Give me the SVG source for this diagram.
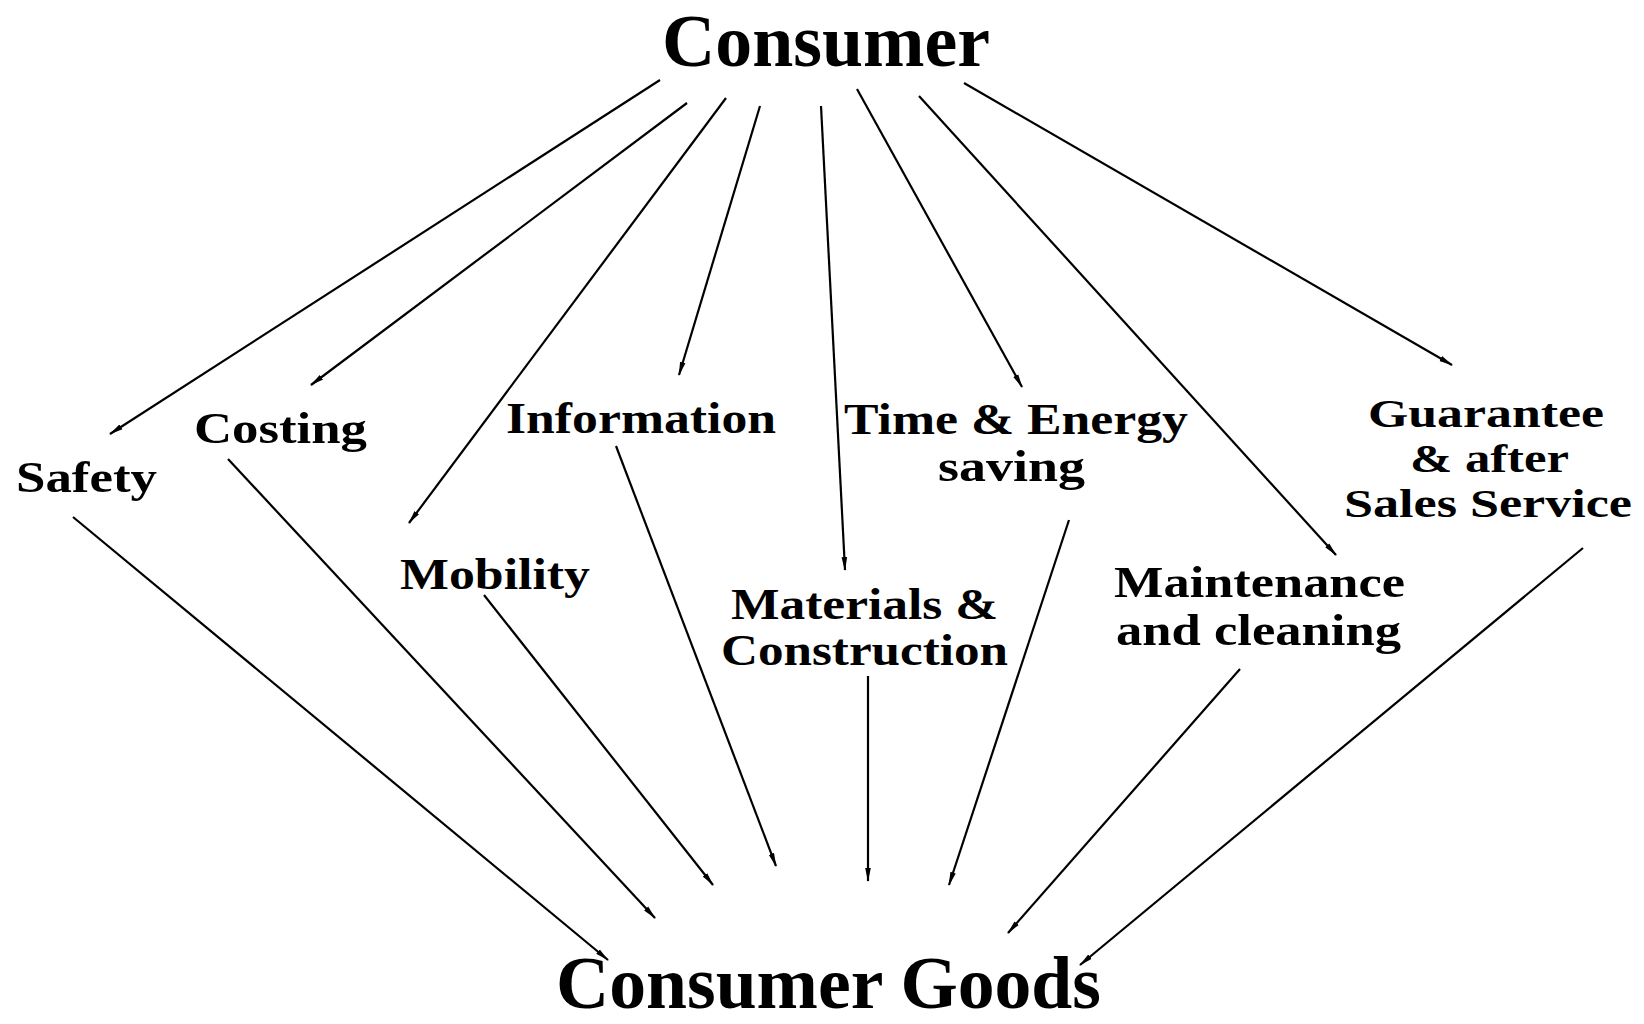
<svg xmlns="http://www.w3.org/2000/svg" width="1644" height="1024" viewBox="0 0 1644 1024">
<style>
text{font-family:"Liberation Serif","Times New Roman",serif;font-weight:bold;fill:#000}
.t{font-size:74px}
.g{font-size:74px}
.l{font-size:44px}
.s{font-size:41px}
.c line{stroke:#000;stroke-width:2.2;fill:none}
</style>
<defs>
<marker id="ah" viewBox="0 0 14 8" refX="13" refY="4" markerWidth="14" markerHeight="8" markerUnits="userSpaceOnUse" orient="auto">
<path d="M0,1.2 L14,4 L0,6.8 Z" fill="#000"/>
</marker>
</defs>
<rect width="1644" height="1024" fill="#fff"/>
<g id="consumer"><text class="t" x="662" y="66" textLength="328" lengthAdjust="spacingAndGlyphs">Consumer</text></g>
<g id="consumer-goods"><text class="g" x="556" y="1008" textLength="545" lengthAdjust="spacingAndGlyphs">Consumer Goods</text></g>
<g id="safety"><text class="l" x="16" y="492" textLength="141" lengthAdjust="spacingAndGlyphs">Safety</text></g>
<g id="costing"><text class="l" x="194" y="443" textLength="173" lengthAdjust="spacingAndGlyphs">Costing</text></g>
<g id="information"><text class="l" x="506" y="433" textLength="270" lengthAdjust="spacingAndGlyphs">Information</text></g>
<g id="time-energy"><text class="l" x="844" y="434" textLength="344" lengthAdjust="spacingAndGlyphs">Time &amp; Energy</text><text class="l" x="938" y="481" textLength="147" lengthAdjust="spacingAndGlyphs">saving</text></g>
<g id="guarantee"><text class="s" x="1368" y="427" textLength="236" lengthAdjust="spacingAndGlyphs">Guarantee</text><text class="s" x="1410" y="472" textLength="159" lengthAdjust="spacingAndGlyphs">&amp; after</text><text class="s" x="1344" y="517" textLength="288" lengthAdjust="spacingAndGlyphs">Sales Service</text></g>
<g id="mobility"><text class="l" x="400" y="589" textLength="190" lengthAdjust="spacingAndGlyphs">Mobility</text></g>
<g id="materials"><text class="l" x="731" y="619" textLength="267" lengthAdjust="spacingAndGlyphs">Materials &amp;</text><text class="l" x="721" y="665" textLength="287" lengthAdjust="spacingAndGlyphs">Construction</text></g>
<g id="maintenance"><text class="l" x="1114" y="597" textLength="291" lengthAdjust="spacingAndGlyphs">Maintenance</text><text class="l" x="1116" y="645" textLength="285" lengthAdjust="spacingAndGlyphs">and cleaning</text></g>
<g id="connectors" class="c">
<line x1="660" y1="80" x2="110" y2="434" marker-end="url(#ah)"/>
<line x1="687" y1="103" x2="311" y2="385" marker-end="url(#ah)"/>
<line x1="726" y1="98" x2="409" y2="523" marker-end="url(#ah)"/>
<line x1="760" y1="106" x2="679" y2="375" marker-end="url(#ah)"/>
<line x1="821" y1="106" x2="845" y2="570" marker-end="url(#ah)"/>
<line x1="857" y1="89" x2="1022" y2="387" marker-end="url(#ah)"/>
<line x1="919" y1="96" x2="1336" y2="555" marker-end="url(#ah)"/>
<line x1="964" y1="83" x2="1452" y2="365" marker-end="url(#ah)"/>
<line x1="73" y1="517" x2="608" y2="960" marker-end="url(#ah)"/>
<line x1="228" y1="459" x2="655" y2="918" marker-end="url(#ah)"/>
<line x1="484" y1="595" x2="713" y2="885" marker-end="url(#ah)"/>
<line x1="616" y1="446" x2="776" y2="866" marker-end="url(#ah)"/>
<line x1="868" y1="676" x2="868" y2="881" marker-end="url(#ah)"/>
<line x1="1069" y1="520" x2="949" y2="885" marker-end="url(#ah)"/>
<line x1="1240" y1="669" x2="1008" y2="933" marker-end="url(#ah)"/>
<line x1="1583" y1="548" x2="1080" y2="965" marker-end="url(#ah)"/>
</g>
</svg>
